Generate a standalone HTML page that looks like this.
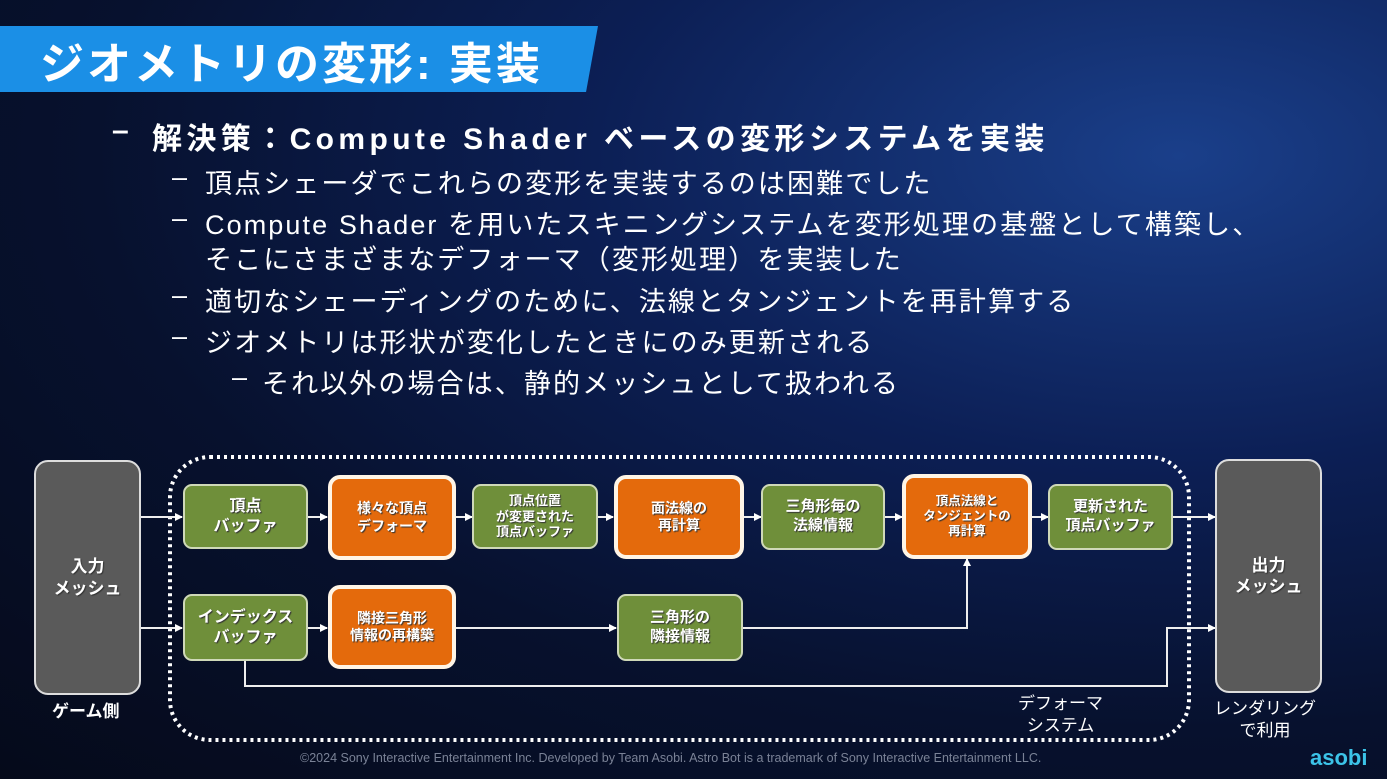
<!DOCTYPE html>
<html><head><meta charset="utf-8"><style>
*{margin:0;padding:0;box-sizing:border-box}
body{width:1387px;height:779px;overflow:hidden;background:radial-gradient(ellipse at 85% 20%,#1a3f8a 0%,#0c1f55 35%,#07112e 65%,#050a1a 100%);font-family:"Liberation Sans","Noto Sans CJK JP",sans-serif;color:#fff;position:relative}
.a{position:absolute;white-space:nowrap}
.hdr{position:absolute;left:0;top:26px;width:598px;height:66px;background:#1b8fe6;clip-path:polygon(0 0,100% 0,98% 100%,0 100%)}
.title{left:40px;top:28px;font-size:44px;font-weight:bold;letter-spacing:3px}
.l1{font-size:30px;font-weight:bold;letter-spacing:4.4px}
.l2{font-size:27px;letter-spacing:2.1px}
.box{position:absolute;display:flex;align-items:center;justify-content:center;text-align:center;font-weight:bold;line-height:1.25;color:#fff;text-shadow:1px 1px 1px #333}
.g{background:#6f8f3a;border:2px solid #cfd9b8;border-radius:9px;font-size:15px}
.o{background:#e46a0c;border:4px solid #fff5e6;border-radius:12px;font-size:14px}
.gr{background:#5a5a5a;border:2px solid #ddd;border-radius:14px;font-size:17px}
.lab{font-size:17px;font-weight:bold;text-align:center;line-height:1.3}
</style></head><body>
<div class="hdr"></div>
<div class="a title">ジオメトリの変形: 実装</div>
<div class="a l1" style="left:112px;top:114px">–</div>
<div class="a l1" style="left:152px;top:114px">解決策：Compute Shader ベースの変形システムを実装</div>
<div class="a l2" style="left:172px;top:162px">–</div>
<div class="a l2" style="left:205px;top:162px">頂点シェーダでこれらの変形を実装するのは困難でした</div>
<div class="a l2" style="left:172px;top:203px">–</div>
<div class="a l2" style="left:205px;top:203px">Compute Shader を用いたスキニングシステムを変形処理の基盤として構築し、</div>
<div class="a l2" style="left:205px;top:238px">そこにさまざまなデフォーマ（変形処理）を実装した</div>
<div class="a l2" style="left:172px;top:280px">–</div>
<div class="a l2" style="left:205px;top:280px">適切なシェーディングのために、法線とタンジェントを再計算する</div>
<div class="a l2" style="left:172px;top:321px">–</div>
<div class="a l2" style="left:205px;top:321px">ジオメトリは形状が変化したときにのみ更新される</div>
<div class="a l2" style="left:232px;top:362px">–</div>
<div class="a l2" style="left:262px;top:362px">それ以外の場合は、静的メッシュとして扱われる</div>

<svg class="a" style="left:0;top:0" width="1387" height="779">
<defs><marker id="ar" markerWidth="8" markerHeight="8" refX="7" refY="4" orient="auto" markerUnits="userSpaceOnUse"><path d="M0,0L8,4L0,8z" fill="#fff"/></marker></defs>
<rect x="170" y="457" width="1019" height="283" rx="40" fill="none" stroke="#fff" stroke-width="4" stroke-dasharray="3,4"/>
<g stroke="#eee" stroke-width="2" fill="none" marker-end="url(#ar)">
<line x1="141" y1="517" x2="182" y2="517"/>
<line x1="141" y1="628" x2="182" y2="628"/>
<line x1="308" y1="517" x2="327" y2="517"/>
<line x1="456" y1="517" x2="472" y2="517"/>
<line x1="598" y1="517" x2="613" y2="517"/>
<line x1="744" y1="517" x2="761" y2="517"/>
<line x1="885" y1="517" x2="902" y2="517"/>
<line x1="1032" y1="517" x2="1048" y2="517"/>
<line x1="1173" y1="517" x2="1215" y2="517"/>
<line x1="308" y1="628" x2="327" y2="628"/>
<line x1="456" y1="628" x2="616" y2="628"/>
<polyline points="743,628 967,628 967,559"/>
<polyline points="245,661 245,686 1167,686 1167,628 1215,628"/>
</g>
</svg>

<div class="box gr" style="left:34px;top:460px;width:107px;height:235px">入力<br>メッシュ</div>
<div class="box gr" style="left:1215px;top:459px;width:107px;height:234px">出力<br>メッシュ</div>
<div class="box g" style="left:183px;top:484px;width:125px;height:65px;font-size:16px">頂点<br>バッファ</div>
<div class="box o" style="left:328px;top:475px;width:128px;height:85px">様々な頂点<br>デフォーマ</div>
<div class="box g" style="left:472px;top:484px;width:126px;height:65px;font-size:13px;line-height:1.2">頂点位置<br>が変更された<br>頂点バッファ</div>
<div class="box o" style="left:614px;top:475px;width:130px;height:84px">面法線の<br>再計算</div>
<div class="box g" style="left:761px;top:484px;width:124px;height:66px">三角形毎の<br>法線情報</div>
<div class="box o" style="left:902px;top:474px;width:130px;height:85px;font-size:12.5px;line-height:1.2">頂点法線と<br>タンジェントの<br>再計算</div>
<div class="box g" style="left:1048px;top:484px;width:125px;height:66px">更新された<br>頂点バッファ</div>
<div class="box g" style="left:183px;top:594px;width:125px;height:67px;font-size:16px">インデックス<br>バッファ</div>
<div class="box o" style="left:328px;top:585px;width:128px;height:84px">隣接三角形<br>情報の再構築</div>
<div class="box g" style="left:617px;top:594px;width:126px;height:67px">三角形の<br>隣接情報</div>

<div class="a lab" style="left:52px;top:701px">ゲーム側</div>
<div class="a lab" style="left:1018px;top:693px;font-weight:normal">デフォーマ<br>システム</div>
<div class="a lab" style="left:1214px;top:698px;font-weight:normal">レンダリング<br>で利用</div>
<div class="a" style="left:300px;top:751px;font-size:12.5px;color:#7a8296">©2024 Sony Interactive Entertainment Inc. Developed by Team Asobi. Astro Bot is a trademark of Sony Interactive Entertainment LLC.</div>
<div class="a" style="left:1310px;top:745px;font-size:22px;font-weight:bold;color:#3cc3e8">asobi</div>
</body></html>
